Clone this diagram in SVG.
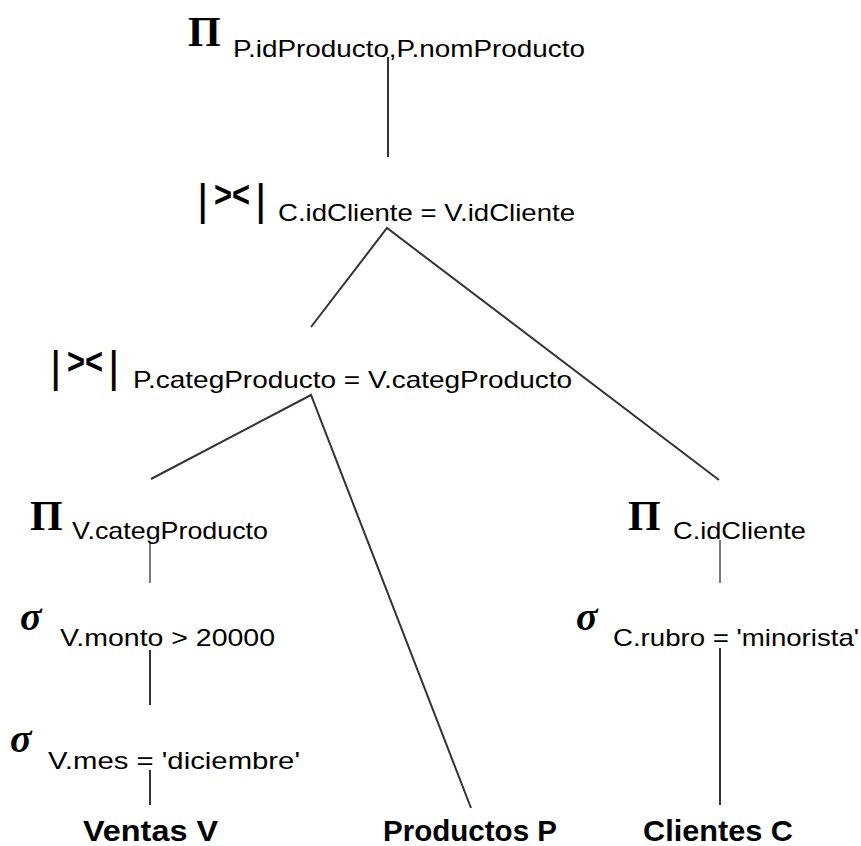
<svg xmlns="http://www.w3.org/2000/svg" width="861" height="846" viewBox="0 0 861 846">
<style>
.sym{font-family:"Liberation Serif",serif;fill:#000}
.pi{font-size:42px;font-weight:bold}
.sig{font-size:40px;font-weight:bold;font-style:italic}
.sub{font-family:"Liberation Sans",Arial,sans-serif;font-size:24px;fill:#000}
.rel{font-family:"Liberation Sans",Arial,sans-serif;font-size:30px;font-weight:bold;fill:#000}
.bar{font-family:"Liberation Sans",Arial,sans-serif;font-size:44px;fill:#000}
.gl{font-family:"Liberation Sans",Arial,sans-serif;font-size:36px;font-weight:bold;fill:#000}
.edge{stroke:#333;stroke-width:2;fill:none}
.edgeg{stroke:#7a7a7a;stroke-width:2;fill:none}
</style>
<rect width="861" height="846" fill="#fff"/>
<g id="connectors">
<line class="edge" x1="388" y1="57" x2="388" y2="157"/>
<polyline class="edge" points="311,327 387,228 719,480"/>
<polyline class="edge" points="151,479 311,395 471,808"/>
<line class="edgeg" x1="150" y1="542" x2="150" y2="583"/>
<line class="edge" x1="150" y1="650" x2="150" y2="705"/>
<line class="edge" x1="150" y1="770" x2="150" y2="805"/>
<line class="edgeg" x1="720" y1="540" x2="720" y2="583"/>
<line class="edge" x1="720" y1="648" x2="720" y2="805"/>
</g>
<g id="proj-top">
<text class="sym pi" x="188" y="46">Π</text>
<text class="sub" x="233" y="57" textLength="352" lengthAdjust="spacingAndGlyphs">P.idProducto,P.nomProducto</text>
</g>
<g id="join-clientes">
<text class="bar" x="197" y="215">|</text>
<text class="gl" x="214" y="207" textLength="36" lengthAdjust="spacingAndGlyphs">&gt;&lt;</text>
<text class="bar" x="255" y="215">|</text>
<text class="sub" x="278" y="221" textLength="297" lengthAdjust="spacingAndGlyphs">C.idCliente = V.idCliente</text>
</g>
<g id="join-productos">
<text class="bar" x="50" y="382">|</text>
<text class="gl" x="67" y="374" textLength="36" lengthAdjust="spacingAndGlyphs">&gt;&lt;</text>
<text class="bar" x="108" y="382">|</text>
<text class="sub" x="133" y="388" textLength="439" lengthAdjust="spacingAndGlyphs">P.categProducto = V.categProducto</text>
</g>
<g id="proj-ventas">
<text class="sym pi" x="30" y="530">Π</text>
<text class="sub" x="72" y="539" textLength="196" lengthAdjust="spacingAndGlyphs">V.categProducto</text>
</g>
<g id="proj-clientes">
<text class="sym pi" x="628" y="530">Π</text>
<text class="sub" x="673" y="539" textLength="133" lengthAdjust="spacingAndGlyphs">C.idCliente</text>
</g>
<g id="sel-monto">
<text class="sym sig" x="20" y="630">σ</text>
<text class="sub" x="60" y="646" textLength="215" lengthAdjust="spacingAndGlyphs">V.monto &gt; 20000</text>
</g>
<g id="sel-mes">
<text class="sym sig" x="10" y="752">σ</text>
<text class="sub" x="48" y="769" textLength="252" lengthAdjust="spacingAndGlyphs">V.mes = 'diciembre'</text>
</g>
<g id="sel-rubro">
<text class="sym sig" x="576" y="630">σ</text>
<text class="sub" x="613" y="646" textLength="246" lengthAdjust="spacingAndGlyphs">C.rubro = 'minorista'</text>
</g>
<g id="ventas">
<text class="rel" x="83" y="841" textLength="135" lengthAdjust="spacingAndGlyphs">Ventas V</text>
</g>
<g id="productos">
<text class="rel" x="383" y="841" textLength="174" lengthAdjust="spacingAndGlyphs">Productos P</text>
</g>
<g id="clientes">
<text class="rel" x="643" y="841" textLength="150" lengthAdjust="spacingAndGlyphs">Clientes C</text>
</g>
</svg>
